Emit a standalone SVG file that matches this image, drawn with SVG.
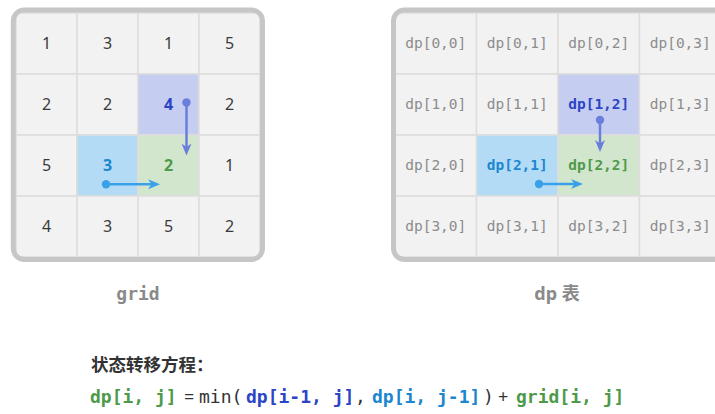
<svg xmlns="http://www.w3.org/2000/svg" width="715" height="414" viewBox="0 0 715 414">
<style>
.cell{fill:#f2f2f2;stroke:#dddddd;stroke-width:1.5}
.pur{fill:#c5cdf0}
.blu{fill:#b3dbf6}
.grn{fill:#d2e5cd}
.frame{fill:none;stroke:#c6c6c6;stroke-width:5}
.num{font-family:"Noto Sans","Open Sans","DejaVu Sans",sans-serif;font-size:16px;fill:#3a3a3a;text-anchor:middle}
.dpt{font-family:"DejaVu Sans Mono","Liberation Mono",monospace;font-size:14.5px;fill:#8c8c8c;text-anchor:middle}
.b{font-weight:bold}
.cP{fill:#2c44c6}
.cB{fill:#1c86cf}
.cG{fill:#4d9a4a}
.lbl{font-size:18px;font-weight:bold;fill:#8a8a8a;text-anchor:middle}
.mono{font-family:"DejaVu Sans Mono","Liberation Mono",monospace}
.sans{font-family:"Noto Sans","Noto Sans CJK SC",sans-serif}
.f{font-size:18px}
.dark{fill:#333333}
.aP{stroke:#6a7edb;stroke-width:2.5;fill:none}
.aB{stroke:#3aa1e9;stroke-width:2.5;fill:none}
</style>
<defs>
<marker id="mP" viewBox="0 0 12 10" markerUnits="userSpaceOnUse" markerWidth="12" markerHeight="10" refX="8" refY="5" orient="auto"><path d="M0,0 L12,5 L0,10 L3.5,5 z" fill="#6a7edb"/></marker>
<marker id="mB" viewBox="0 0 12 10" markerUnits="userSpaceOnUse" markerWidth="12" markerHeight="10" refX="8" refY="5" orient="auto"><path d="M0,0 L12,5 L0,10 L3.5,5 z" fill="#3aa1e9"/></marker>
</defs>

<!-- grid panel -->
<g id="grid-panel">
<rect x="13.3" y="10" width="249.2" height="249.5" rx="11" fill="#f2f2f2"/>
<g id="g00"><rect class="cell" x="16" y="13" width="61" height="61"/><text class="num" x="46.5" y="49">1</text></g>
<g id="g01"><rect class="cell" x="77" y="13" width="61" height="61"/><text class="num" x="107.5" y="49">3</text></g>
<g id="g02"><rect class="cell" x="138" y="13" width="61" height="61"/><text class="num" x="168.5" y="49">1</text></g>
<g id="g03"><rect class="cell" x="199" y="13" width="61" height="61"/><text class="num" x="229.5" y="49">5</text></g>
<g id="g10"><rect class="cell" x="16" y="74" width="61" height="61"/><text class="num" x="46.5" y="110">2</text></g>
<g id="g11"><rect class="cell" x="77" y="74" width="61" height="61"/><text class="num" x="107.5" y="110">2</text></g>
<g id="g12"><rect class="cell pur" x="138" y="74" width="61" height="61"/><text class="num b cP" x="168.5" y="110">4</text></g>
<g id="g13"><rect class="cell" x="199" y="74" width="61" height="61"/><text class="num" x="229.5" y="110">2</text></g>
<g id="g20"><rect class="cell" x="16" y="135" width="61" height="61"/><text class="num" x="46.5" y="171">5</text></g>
<g id="g21"><rect class="cell blu" x="77" y="135" width="61" height="61"/><text class="num b cB" x="107.5" y="171">3</text></g>
<g id="g22"><rect class="cell grn" x="138" y="135" width="61" height="61"/><text class="num b cG" x="168.5" y="171">2</text></g>
<g id="g23"><rect class="cell" x="199" y="135" width="61" height="61"/><text class="num" x="229.5" y="171">1</text></g>
<g id="g30"><rect class="cell" x="16" y="196" width="61" height="61"/><text class="num" x="46.5" y="232">4</text></g>
<g id="g31"><rect class="cell" x="77" y="196" width="61" height="61"/><text class="num" x="107.5" y="232">3</text></g>
<g id="g32"><rect class="cell" x="138" y="196" width="61" height="61"/><text class="num" x="168.5" y="232">5</text></g>
<g id="g33"><rect class="cell" x="199" y="196" width="61" height="61"/><text class="num" x="229.5" y="232">2</text></g>
<rect class="frame" x="13.3" y="10" width="249.2" height="249.5" rx="11"/>
</g>

<!-- dp panel -->
<g id="dp-panel">
<rect x="393.5" y="10" width="340" height="249.5" rx="11" fill="#f2f2f2"/>
<g id="d00"><rect class="cell" x="395" y="13" width="81.5" height="61"/><text class="dpt" x="435.75" y="48">dp[0,0]</text></g>
<g id="d01"><rect class="cell" x="476.5" y="13" width="81.5" height="61"/><text class="dpt" x="517.25" y="48">dp[0,1]</text></g>
<g id="d02"><rect class="cell" x="558" y="13" width="81.5" height="61"/><text class="dpt" x="598.75" y="48">dp[0,2]</text></g>
<g id="d03"><rect class="cell" x="639.5" y="13" width="81.5" height="61"/><text class="dpt" x="680.25" y="48">dp[0,3]</text></g>
<g id="d10"><rect class="cell" x="395" y="74" width="81.5" height="61"/><text class="dpt" x="435.75" y="108.5">dp[1,0]</text></g>
<g id="d11"><rect class="cell" x="476.5" y="74" width="81.5" height="61"/><text class="dpt" x="517.25" y="108.5">dp[1,1]</text></g>
<g id="d12"><rect class="cell pur" x="558" y="74" width="81.5" height="61"/><text class="dpt b cP" x="598.75" y="108.5">dp[1,2]</text></g>
<g id="d13"><rect class="cell" x="639.5" y="74" width="81.5" height="61"/><text class="dpt" x="680.25" y="108.5">dp[1,3]</text></g>
<g id="d20"><rect class="cell" x="395" y="135" width="81.5" height="61"/><text class="dpt" x="435.75" y="170">dp[2,0]</text></g>
<g id="d21"><rect class="cell blu" x="476.5" y="135" width="81.5" height="61"/><text class="dpt b cB" x="517.25" y="170">dp[2,1]</text></g>
<g id="d22"><rect class="cell grn" x="558" y="135" width="81.5" height="61"/><text class="dpt b cG" x="598.75" y="170">dp[2,2]</text></g>
<g id="d23"><rect class="cell" x="639.5" y="135" width="81.5" height="61"/><text class="dpt" x="680.25" y="170">dp[2,3]</text></g>
<g id="d30"><rect class="cell" x="395" y="196" width="81.5" height="61"/><text class="dpt" x="435.75" y="231">dp[3,0]</text></g>
<g id="d31"><rect class="cell" x="476.5" y="196" width="81.5" height="61"/><text class="dpt" x="517.25" y="231">dp[3,1]</text></g>
<g id="d32"><rect class="cell" x="558" y="196" width="81.5" height="61"/><text class="dpt" x="598.75" y="231">dp[3,2]</text></g>
<g id="d33"><rect class="cell" x="639.5" y="196" width="81.5" height="61"/><text class="dpt" x="680.25" y="231">dp[3,3]</text></g>
<rect class="frame" x="393.5" y="10" width="340" height="249.5" rx="11"/>
</g>

<!-- connectors -->
<g id="connectors">
<circle cx="186.5" cy="102.5" r="4.2" fill="#6a7edb"/>
<line class="aP" x1="186.5" y1="102.5" x2="186.5" y2="151.5" marker-end="url(#mP)"/>
<circle cx="106" cy="184.3" r="4.2" fill="#3aa1e9"/>
<line class="aB" x1="106" y1="184.3" x2="156" y2="184.3" marker-end="url(#mB)"/>
<circle cx="600" cy="120" r="4.2" fill="#6a7edb"/>
<line class="aP" x1="600" y1="120" x2="600" y2="148" marker-end="url(#mP)"/>
<circle cx="539" cy="184" r="4.2" fill="#3aa1e9"/>
<line class="aB" x1="539" y1="184" x2="579" y2="184" marker-end="url(#mB)"/>
</g>

<!-- labels -->
<g id="label-grid"><text class="lbl mono" x="138" y="300">grid</text></g>
<g id="label-dp"><text class="lbl sans" x="557" y="300">dp 表</text></g>

<g id="formula">
<text class="sans b dark" x="91" y="371" font-size="17.5" font-family="'Noto Sans CJK SC',sans-serif">状态转移方程：</text>
<text class="f" y="403">
<tspan class="mono b cG" x="90">dp[i, j]</tspan>
<tspan class="sans dark" x="184">=</tspan>
<tspan class="mono dark" x="199">min(</tspan>
<tspan class="mono b cP" x="246">dp[i-1, j]</tspan>
<tspan class="mono dark" x="355">,</tspan>
<tspan class="mono b cB" x="372">dp[i, j-1]</tspan>
<tspan class="mono dark" x="483">)</tspan>
<tspan class="sans dark" x="498">+</tspan>
<tspan class="mono b cG" x="516">grid[i, j]</tspan>
</text>
</g>
</svg>
